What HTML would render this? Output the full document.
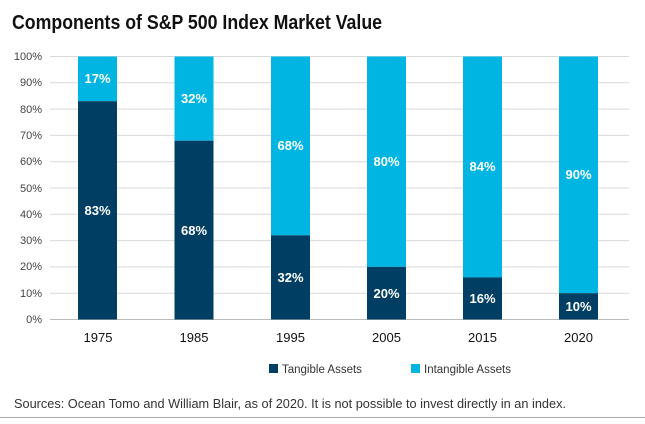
<!DOCTYPE html>
<html><head><style>
html,body{margin:0;padding:0;background:#fff;}
body{width:645px;height:419px;position:relative;overflow:hidden;font-family:"Liberation Sans",sans-serif;}
</style></head><body>
<svg width="645" height="419" xmlns="http://www.w3.org/2000/svg" font-family="Liberation Sans, sans-serif">
<text x="12" y="29" font-size="20" font-weight="bold" fill="#111" textLength="370" lengthAdjust="spacingAndGlyphs">Components of S&amp;P 500 Index Market Value</text>
<g stroke="#d9d9d9" stroke-width="1">
<line x1="50" x2="629" y1="56.5" y2="56.5"/><line x1="50" x2="629" y1="82.8" y2="82.8"/><line x1="50" x2="629" y1="109.1" y2="109.1"/><line x1="50" x2="629" y1="135.4" y2="135.4"/><line x1="50" x2="629" y1="161.7" y2="161.7"/><line x1="50" x2="629" y1="188" y2="188"/><line x1="50" x2="629" y1="214.3" y2="214.3"/><line x1="50" x2="629" y1="240.6" y2="240.6"/><line x1="50" x2="629" y1="266.9" y2="266.9"/><line x1="50" x2="629" y1="293.2" y2="293.2"/>
</g>
<line x1="50" x2="629" y1="319.5" y2="319.5" stroke="#bbb"/>
<g font-size="11" fill="#444" text-anchor="end">
<text x="42" y="60">100%</text><text x="42" y="86">90%</text><text x="42" y="113">80%</text><text x="42" y="139">70%</text><text x="42" y="165">60%</text><text x="42" y="192">50%</text><text x="42" y="218">40%</text><text x="42" y="244">30%</text><text x="42" y="270">20%</text><text x="42" y="297">10%</text><text x="42" y="323">0%</text>
</g>
<g>
<rect x="78" y="56.5" width="39" height="44.7" fill="#00b5e2"/><rect x="78" y="101.2" width="39" height="218.3" fill="#003f63"/>
<rect x="174.5" y="56.5" width="39" height="84.2" fill="#00b5e2"/><rect x="174.5" y="140.7" width="39" height="178.8" fill="#003f63"/>
<rect x="271" y="56.5" width="39" height="178.8" fill="#00b5e2"/><rect x="271" y="235.3" width="39" height="84.2" fill="#003f63"/>
<rect x="367" y="56.5" width="39" height="210.4" fill="#00b5e2"/><rect x="367" y="266.9" width="39" height="52.6" fill="#003f63"/>
<rect x="463" y="56.5" width="39" height="220.9" fill="#00b5e2"/><rect x="463" y="277.4" width="39" height="42.1" fill="#003f63"/>
<rect x="559" y="56.5" width="39" height="236.7" fill="#00b5e2"/><rect x="559" y="293.2" width="39" height="26.3" fill="#003f63"/>
</g>
<g font-size="13" font-weight="bold" fill="#fff" text-anchor="middle">
<text x="97.5" y="83">17%</text><text x="97.5" y="215">83%</text>
<text x="194" y="103">32%</text><text x="194" y="235">68%</text>
<text x="290.5" y="150">68%</text><text x="290.5" y="282">32%</text>
<text x="386.5" y="166">80%</text><text x="386.5" y="298">20%</text>
<text x="482.5" y="171">84%</text><text x="482.5" y="303">16%</text>
<text x="578.5" y="179">90%</text><text x="578.5" y="311">10%</text>
</g>
<g font-size="13" fill="#111" text-anchor="middle">
<text x="98" y="342">1975</text><text x="194" y="342">1985</text><text x="290.5" y="342">1995</text><text x="386.5" y="342">2005</text><text x="482.5" y="342">2015</text><text x="578.5" y="342">2020</text>
</g>
<rect x="269" y="364" width="9" height="9" fill="#003f63"/>
<text x="282" y="373" font-size="11.5" fill="#333">Tangible Assets</text>
<rect x="411" y="364" width="9" height="9" fill="#00b5e2"/>
<text x="424" y="373" font-size="11.5" fill="#333">Intangible Assets</text>
<text x="14" y="408" font-size="13" fill="#333" textLength="552" lengthAdjust="spacingAndGlyphs">Sources: Ocean Tomo and William Blair, as of 2020. It is not possible to invest directly in an index.</text>
<line x1="0" x2="645" y1="417.5" y2="417.5" stroke="#aaa"/>
</svg>
</body></html>
